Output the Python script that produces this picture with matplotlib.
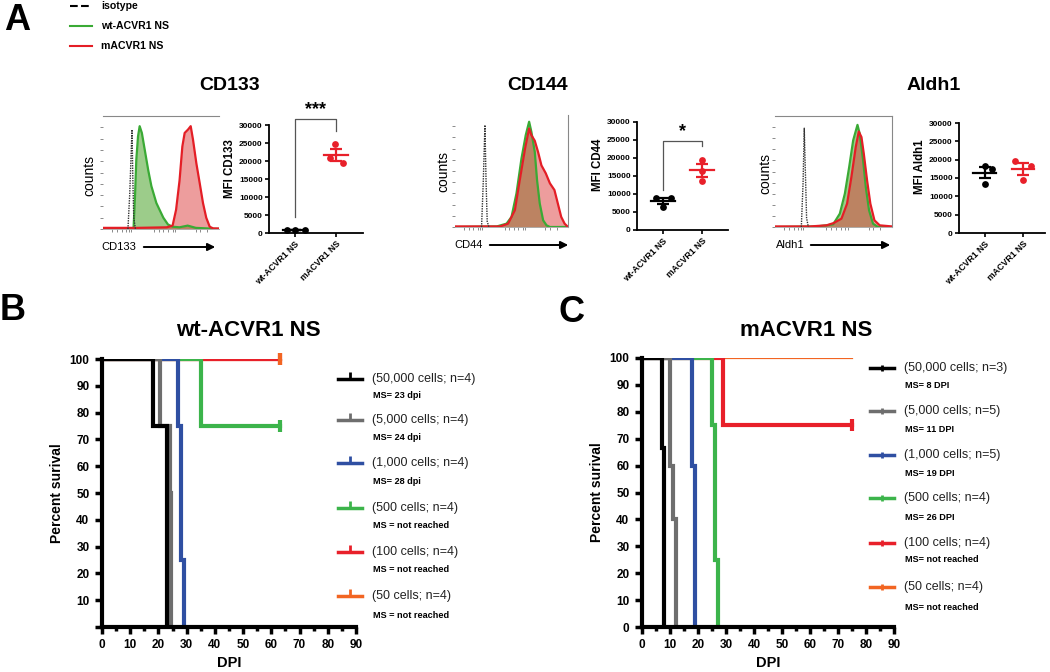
import matplotlib
matplotlib.use("Agg")
import matplotlib.pyplot as plt
from matplotlib.lines import Line2D
from matplotlib.patches import FancyArrowPatch
import numpy as np

plt.rcParams['font.family'] = ['Liberation Sans', 'DejaVu Sans']

# ---------------- data ----------------
groups = ["wt-ACVR1 NS", "mACVR1 NS"]

# flow histograms: x = position on log axis (0-100), y = counts (% of max)
cd133_iso_x = [21.5, 23, 25, 25.8, 26.5, 28]
cd133_iso_y = [0, 30, 88, 40, 10, 0]
cd133_wt_x = [0, 26, 26.4, 27.6, 28.7, 30.2, 31.6, 33.5, 36, 39, 41.7, 46, 52, 56, 60, 66, 73, 80, 100]
cd133_wt_y = [0, 0, 2, 29, 61, 82, 91, 85, 70, 52, 38, 23, 10, 4, 2, 1.5, 3, 1, 0]
cd133_m_x = [0, 30, 55, 60, 63, 66, 68.4, 70.4, 73.3, 75.6, 77.6, 80.5, 83.3, 86.2, 89, 92, 95, 100]
cd133_m_y = [1, 1, 1.5, 3, 17, 43, 73, 85, 88, 91, 79, 58, 41, 23, 10, 2, 0.5, 0.5]

cd44_iso_x = [23.5, 25, 26.5, 27.5, 28.5, 30]
cd44_iso_y = [0, 40, 91, 40, 5, 0]
cd44_wt_x = [0, 37, 45.6, 50, 54.4, 58.8, 62.6, 65.6, 67.6, 70.6, 72.6, 75, 78, 81, 84, 100]
cd44_wt_y = [0, 0.5, 3, 9, 30, 61, 82, 94, 85, 67, 42, 21, 6, 1.5, 0, 0]
cd44_m_x = [0, 40, 47, 53, 57, 62, 65.6, 67.6, 70.6, 73.5, 76.5, 80.3, 84, 88, 91, 94, 97, 100]
cd44_m_y = [0.5, 0.5, 3, 15, 40, 70, 88, 82, 77, 67, 55, 48, 39, 33, 21, 9, 3, 0]

aldh_iso_x = [22.5, 24, 25, 26.2, 27, 28.5]
aldh_iso_y = [0, 40, 89, 40, 8, 0]
aldh_wt_x = [0, 35.5, 44, 49.7, 55.4, 59.7, 63.4, 66.8, 70.5, 72.4, 75.3, 77.6, 80.4, 83.8, 88, 100]
aldh_wt_y = [0, 0.5, 1.5, 2.4, 12, 30, 54, 78, 92, 84, 60, 36, 15, 3, 0, 0]
aldh_m_x = [0, 30, 44, 50, 56.8, 61.6, 65.3, 69, 71.6, 73.9, 75.9, 78.7, 81.5, 85, 89.5, 100]
aldh_m_y = [0.5, 0.5, 1.5, 3.5, 7.5, 21, 45, 72, 86, 81, 66, 42, 21, 6, 1.5, 0.5]

# MFI dot plots
cd133_wt = [800, 750, 700]
cd133_m = [24700, 20700, 19500]
cd44_wt = [8800, 9000, 6500]
cd44_m = [19500, 16500, 13600]
aldh_wt = [18300, 17400, 13500]
aldh_m = [19700, 18200, 14400]

# survival curves (DPI, percent survival)
b_labels = ["(50,000 cells; n=4)", "(5,000 cells; n=4)", "(1,000 cells; n=4)",
            "(500 cells; n=4)", "(100 cells; n=4)", "(50 cells; n=4)"]
b_ms = ["MS= 23 dpi", "MS= 24 dpi", "MS= 28 dpi",
        "MS = not reached", "MS = not reached", "MS = not reached"]
b_t = [[0, 18, 23], [0, 20.5, 24, 24.5], [0, 27, 28, 29], [0, 35, 63], [0, 63], [0, 63]]
b_s = [[100, 75, 0], [100, 75, 50, 0], [100, 75, 25, 0], [100, 75, 75], [100, 100], [100, 100]]
b_censored = [False, False, False, True, True, True]

c_labels = ["(50,000 cells; n=3)", "(5,000 cells; n=5)", "(1,000 cells; n=5)",
            "(500 cells; n=4)", "(100 cells; n=4)", "(50 cells; n=4)"]
c_ms = ["MS= 8 DPI", "MS= 11 DPI", "MS= 19 DPI", "MS= 26 DPI",
        "MS= not reached", "MS= not reached"]
c_t = [[0, 7, 8], [0, 10, 11, 12], [0, 18, 19], [0, 25, 26, 27], [0, 29, 75], [0, 75]]
c_s = [[100, 66.7, 0], [100, 60, 40, 0], [100, 60, 0], [100, 75, 25, 0], [100, 75, 75], [100, 100]]
c_censored = [False, False, False, False, True, False]

surv_colors = ['#000000', '#6e6e6e', '#2f4fa2', '#3cb44b', '#e8202a', '#f26522']

# ---------------- layout helpers ----------------
W, H = 1050, 672


def rect(l, t, r, b):
    return [l / W, 1 - b / H, (r - l) / W, (b - t) / H]


def fp(x, y):
    return (x / W, 1 - y / H)


fig = plt.figure(figsize=(10.5, 6.72), dpi=100)

GREEN = '#3aaa35'
RED = '#e41e26'


def histo(r, iso, wt, m, spines, xlabel, lab_xy, arrow, counts_xy):
    ax = fig.add_axes(r)
    ax.fill_between(wt[0], wt[1], color=(90 / 255, 170 / 255, 60 / 255), alpha=0.6, lw=0)
    ax.fill_between(m[0], m[1], color=(220 / 255, 60 / 255, 60 / 255), alpha=0.5, lw=0)
    ax.plot(wt[0], wt[1], color=GREEN, lw=1.6)
    ax.plot(m[0], m[1], color=RED, lw=1.6)
    ax.plot(iso[0], iso[1], color='#333333', lw=1.0, ls=(0, (1, 0.8)))
    ax.set_xlim(0, 100)
    ax.set_ylim(0, 100)
    for s in ['top', 'right', 'left']:
        ax.spines[s].set_visible(s in spines)
        ax.spines[s].set_color('#888888')
        ax.spines[s].set_linewidth(0.8)
    ax.spines['bottom'].set_color('#aaaaaa')
    ax.spines['bottom'].set_linewidth(0.6)
    ax.set_xticks([8, 12, 16, 20, 22, 24, 44, 48, 52, 56, 60, 62, 80, 84, 90])
    ax.set_yticks(np.arange(0, 100, 10))
    ax.tick_params(length=2, width=0.6, color='#777777', labelbottom=False, labelleft=False)
    fig.text(*fp(*counts_xy), "counts", rotation=90, ha='center', va='center', fontsize=10)
    fig.text(*fp(*lab_xy), xlabel, ha='left', va='center', fontsize=8)
    fig.add_artist(FancyArrowPatch(fp(arrow[0], lab_xy[1]), fp(arrow[1], lab_xy[1]),
                                   transform=fig.transFigure, arrowstyle='-|>',
                                   mutation_scale=11, lw=1.4, color='black'))
    return ax


def dots(r, wt, m, ylabel, xlim, jit_wt, jit_m, sig=None):
    ax = fig.add_axes(r)
    for i, (vals, col, jit) in enumerate([(wt, 'black', jit_wt), (m, '#e8202a', jit_m)]):
        vals = np.array(vals, dtype=float)
        mean = vals.mean()
        sem = vals.std(ddof=1) / np.sqrt(len(vals))
        ax.scatter(i + np.array(jit), vals, s=24, color=col, zorder=3, lw=0)
        ax.plot([i - 0.3, i + 0.3], [mean, mean], color=col, lw=1.6)
        ax.errorbar(i, mean, yerr=sem, color=col, capsize=4, capthick=1.6, lw=1.6)
    ax.set_xlim(*xlim)
    ax.set_ylim(0, 30000)
    ax.set_yticks(np.arange(0, 30001, 5000))
    ax.set_xticks([0, 1])
    ax.set_xticklabels(groups, rotation=45, ha='right', rotation_mode='anchor',
                       fontsize=6.3, fontweight='bold')
    for lbl in ax.get_yticklabels():
        lbl.set_fontweight('bold')
        lbl.set_fontsize(6.0)
    ax.tick_params(length=3, width=1.2, pad=1.5)
    ax.spines['top'].set_visible(False)
    ax.spines['right'].set_visible(False)
    ax.spines['left'].set_linewidth(1.3)
    ax.spines['bottom'].set_linewidth(1.3)
    ax.set_ylabel(ylabel, fontsize=8.3, fontweight='bold', labelpad=2)
    ax.yaxis.set_label_coords(-33 / (r[2] * W), 0.6)
    if sig:
        y0, ytop, y1, star = sig
        ax.plot([0, 0, 1, 1], [y0, ytop, ytop, y1], color='#555555', lw=0.9, clip_on=False)
        ax.text(0.5, ytop + 300, star, ha='center', va='bottom', fontsize=13, fontweight='bold')
    return ax


# ---------------- panel A ----------------
fig.text(*fp(4, 20), "A", fontsize=26, fontweight='bold', va='center', ha='left')
top_leg = [("isotype", 'black', '--'), ("wt-ACVR1 NS", GREEN, '-'), ("mACVR1 NS", RED, '-')]
for k, (txt, col, ls) in enumerate(top_leg):
    y = 6 + k * 20
    fig.add_artist(Line2D([70 / W, 92 / W], [fp(0, y)[1]] * 2, color=col, ls=ls, lw=1.5))
    fig.text(*fp(101, y), txt, fontsize=7.6, fontweight='bold', va='center', ha='left')

fig.text(*fp(230, 86), "CD133", fontsize=14, fontweight='bold', ha='center', va='center')
fig.text(*fp(538, 86), "CD144", fontsize=14, fontweight='bold', ha='center', va='center')
fig.text(*fp(934, 86), "Aldh1", fontsize=14, fontweight='bold', ha='center', va='center')

histo(rect(103, 116, 219, 229), (cd133_iso_x, cd133_iso_y), (cd133_wt_x, cd133_wt_y),
      (cd133_m_x, cd133_m_y), ['top'], "CD133", (101, 247), (141, 218), (89, 175))
histo(rect(455, 115, 568, 227), (cd44_iso_x, cd44_iso_y), (cd44_wt_x, cd44_wt_y),
      (cd44_m_x, cd44_m_y), ['right'], "CD44", (454, 245), (487, 571), (443, 172))
histo(rect(775, 116, 892, 227), (aldh_iso_x, aldh_iso_y), (aldh_wt_x, aldh_wt_y),
      (aldh_m_x, aldh_m_y), ['top', 'right'], "Aldh1", (776, 245), (808, 893), (765, 173))

dots(rect(269, 125, 363, 233), cd133_wt, cd133_m, "MFI CD133", (-0.63, 1.66),
     [-0.2, 0, 0.24], [-0.02, -0.15, 0.17], sig=(4500, 31600, 28200, "***"))
dots(rect(637, 122, 728, 230), cd44_wt, cd44_m, "MFI CD44", (-0.67, 1.67),
     [-0.18, 0.2, 0], [0, 0, 0], sig=(11000, 24600, 23400, "*"))
dots(rect(959, 123, 1045, 233), aldh_wt, aldh_m, "MFI Aldh1", (-0.68, 1.58),
     [0, 0.2, 0], [-0.2, 0.2, 0])


# ---------------- panels B, C ----------------
def survival(r, ts, ss, censored, labels, ms, show_zero, leg_x, leg_y, ms_y, marker):
    ax = fig.add_axes(r)
    n = len(ts)
    for i in reversed(range(n)):
        lw = 1.6 if (i == n - 1 and not censored[i]) else 3
        ax.plot(ts[i], ss[i], drawstyle='steps-post', color=surv_colors[i], lw=lw,
                solid_joinstyle='miter')
    for i in range(n):
        if censored[i]:
            ax.plot(ts[i][-1], ss[i][-1], marker='|', ms=8, mew=3, color=surv_colors[i],
                    clip_on=False, zorder=5)
    ax.set_xlim(0, 90)
    ax.set_ylim(0, 100)
    ax.set_xticks(np.arange(0, 91, 10))
    ax.set_xticks(np.arange(5, 90, 10), minor=True)
    ax.set_yticks(np.arange(0, 101, 10))
    ylabels = [str(v) for v in range(0, 101, 10)]
    if not show_zero:
        ylabels[0] = ""
    ax.set_yticklabels(ylabels)
    ax.tick_params(which='major', length=5, width=2.5, labelsize=8.5, pad=4)
    ax.tick_params(which='minor', length=3, width=2.5)
    for lbl in ax.get_xticklabels() + ax.get_yticklabels():
        lbl.set_fontweight('bold')
    ax.spines['top'].set_visible(False)
    ax.spines['right'].set_visible(False)
    ax.spines['left'].set_linewidth(3)
    ax.spines['bottom'].set_linewidth(3)
    ax.set_ylabel("Percent surival", fontsize=10, fontweight='bold', labelpad=4)
    ax.set_xlabel("DPI", fontsize=10.5, fontweight='bold', labelpad=3)
    for i in range(n):
        yy = fp(0, leg_y[i])[1]
        fig.add_artist(Line2D([leg_x / W, (leg_x + 24) / W], [yy, yy], color=surv_colors[i], lw=2.5))
        fig.add_artist(Line2D([(leg_x + 12) / W], [yy], color=surv_colors[i], marker=marker,
                              ms=5, mew=2, ls='none'))
        fig.text(*fp(leg_x + 34, leg_y[i]), labels[i], fontsize=9, va='center', ha='left',
                 color='#222222')
        fig.text(*fp(leg_x + 35, ms_y[i]), ms[i], fontsize=6.6, fontweight='bold', va='center',
                 ha='left')
    return ax


fig.text(*fp(0, 310), "B", fontsize=26, fontweight='bold', va='center', ha='left')
fig.text(*fp(558, 312), "C", fontsize=26, fontweight='bold', va='center', ha='left')
fig.text(*fp(248, 330), "wt-ACVR1 NS", fontsize=16, fontweight='bold', ha='center', va='center')
fig.text(*fp(806, 330), "mACVR1 NS", fontsize=16, fontweight='bold', ha='center', va='center')

survival(rect(102, 359, 356, 627), b_t, b_s, b_censored, b_labels, b_ms, False,
         338, [379, 420, 463, 508, 552, 596], [396, 438, 482, 526, 570, 616], 2)
survival(rect(642, 358, 894, 627), c_t, c_s, c_censored, c_labels, c_ms, True,
         870, [368, 411, 455, 498, 543, 587], [386, 429, 473, 517, 560, 607], '|')

fig.savefig("out.png", dpi=100)
